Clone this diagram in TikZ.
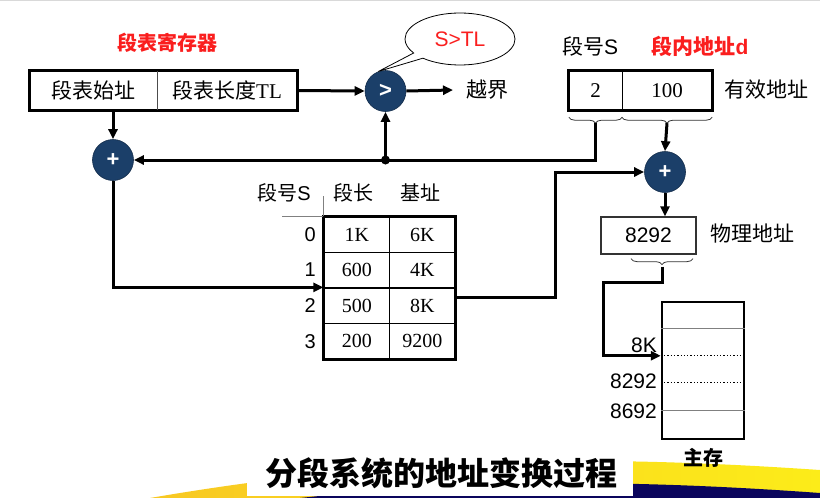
\documentclass[tikz,border=0pt]{standalone}
\usepackage{fontspec}
\setmainfont{Liberation Serif}
\newfontfamily\cjk{Noto Sans CJK SC}
\newfontfamily\arial{Liberation Sans}
\usetikzlibrary{arrows.meta,shapes.geometric,shapes.callouts,decorations.pathreplacing,calc}
\definecolor{navy}{RGB}{27,63,105}
\definecolor{hired}{RGB}{250,30,30}
\definecolor{band}{RGB}{10,5,92}
\definecolor{goldA}{RGB}{248,200,35}
\definecolor{goldB}{RGB}{252,236,25}
\begin{document}
\begin{tikzpicture}[x=1pt,y=-1pt,
  conn/.style={line width=3pt},
  arr/.style={conn,-{Triangle[length=10pt,width=9pt]}},
  op/.style={circle,fill=navy,draw=navy!70!black,line width=0.6pt,minimum size=41pt,inner sep=0pt,text=white,font=\arial\bfseries\fontsize{22}{22}\selectfont},
  cjkt/.style={font=\cjk\fontsize{21}{21}\selectfont,inner sep=0pt},
  cjkb/.style={font=\cjk\bfseries\fontsize{20}{20}\selectfont,inner sep=0pt},
  serift/.style={font=\fontsize{21}{21}\selectfont,inner sep=0pt},
  sanst/.style={font=\arial\fontsize{21}{21}\selectfont,inner sep=0pt},
  cell/.style={draw,line width=1.3pt,minimum width=65.5pt,minimum height=35.5pt,inner sep=0pt,font=\fontsize{20}{20}\selectfont},
  bracestyle/.style={decorate,decoration={brace,amplitude=6pt,mirror},line width=0.8pt,black!80}
]
\useasboundingbox (0,0) rectangle (820,498);
% background band
\draw[gray!30, line width=1pt] (0,0.5) -- (820,0.5);
\shade[left color=goldA,right color=goldB] (150,498) .. controls (400,455) and (600,455) .. (820,470) -- (820,498) -- cycle;
\fill[band] (300,498) .. controls (450,482) and (600,477) .. (820,493) -- (820,498) -- cycle;
\fill[white] (247,452) rectangle (633,496);
\node[font=\cjk\bfseries\fontsize{32}{32}\selectfont] (title) at (441,473) {分段系统的地址变换过程};

% segment table register
\node[cjkb, text=hired] (regt) at (167,43) {段表寄存器};
\node[cjkt, minimum width=127pt, minimum height=39pt] (rb1) at (93.5,90.5) {段表始址};
\node[serift, minimum width=140pt, minimum height=39pt] (rb2) at (227,90.5) {{\cjk 段表长度}TL};
\draw[line width=3pt] (rb1.north west) rectangle (rb2.south east);
\draw[line width=1.3pt, black!70] (rb1.north east) -- (rb1.south east);

% compare
\node[op] (cmp) at (385.5,91) {>};
\draw[arr] (rb2.east) -- (cmp.west);
\node[cjkt, anchor=west] (yj) at (466,90) {越界};
\draw[arr] (cmp.east) -- ([xshift=-13pt]yj.west);
\node[ellipse callout, draw, fill=white, line width=0.8pt, minimum width=110pt, minimum height=52pt,
      callout absolute pointer={(cmp.110)}, callout pointer arc=15, text=hired,
      font=\arial\fontsize{21}{21}\selectfont] (call) at (460,39) {S>TL};

% logical address
\node[cjkt] (segS) at (590,46) {段号{\arial S}};
\node[cjkb, text=hired, font=\cjk\bfseries\fontsize{21}{21}\selectfont] (offd) at (700,46) {段内地址{\arial\bfseries d}};
\node[serift, minimum width=53pt, minimum height=39pt] (ad1) at (595.5,90.5) {2};
\node[serift, minimum width=90pt, minimum height=39pt] (ad2) at (667,90.5) {100};
\draw[line width=3pt] (ad1.north west) rectangle (ad2.south east);
\draw[line width=1.3pt] (ad1.north east) -- (ad1.south east);
\node[cjkt] (yx) at (766,90) {有效地址};
\draw[bracestyle] ([yshift=-7pt]ad1.south west) -- ([yshift=-7pt]ad1.south east);
\draw[bracestyle] ([yshift=-7pt]ad2.south west) -- ([yshift=-7pt]ad2.south east);
\coordinate (bS) at ([yshift=-13pt]ad1.south);
\coordinate (bD) at ([yshift=-13pt]ad2.south);

% adders
\node[op] (add1) at (113,160) {+};
\node[op] (add2) at (665,172) {+};
\draw[arr] (add1 |- rb1.south) -- (add1.north);
\draw[arr] (bS) |- (add1.east);
\coordinate (j) at (cmp |- add1);
\fill (j) circle (4.5pt);
\draw[arr] (j) -- (cmp.south);
\draw[arr] (bD) -- (add2.north);

% segment table
\node[cjkt, font=\cjk\fontsize{20}{20}\selectfont] (hS) at (284,193) {段号{\arial S}};
\node[cjkt, font=\cjk\fontsize{20}{20}\selectfont] (hL) at (353,193) {段长};
\node[cjkt, font=\cjk\fontsize{20}{20}\selectfont] (hB) at (420,193) {基址};
\node[cell] (c00) at (356.75,234.75) {1K};
\node[cell] (c01) at (422.25,234.75) {6K};
\node[cell] (c10) at (356.75,270.25) {600};
\node[cell] (c11) at (422.25,270.25) {4K};
\node[cell] (c20) at (356.75,305.75) {500};
\node[cell] (c21) at (422.25,305.75) {8K};
\node[cell] (c30) at (356.75,341.25) {200};
\node[cell] (c31) at (422.25,341.25) {9200};
\draw[line width=2.5pt] (c00.north west) rectangle (c31.south east);
\draw[gray, line width=1pt] (c00.north west) -- ++(-41,0);
\draw[gray, line width=1pt] (c00.north west) -- ++(0,-20);
\node[sanst, font=\arial\fontsize{20}{20}\selectfont, anchor=east] (r0) at (316,235) {0};
\node[sanst, font=\arial\fontsize{20}{20}\selectfont, anchor=east] (r1) at (316,270) {1};
\node[sanst, font=\arial\fontsize{20}{20}\selectfont, anchor=east] (r2) at (316,306) {2};
\node[sanst, font=\arial\fontsize{20}{20}\selectfont, anchor=east] (r3) at (316,342) {3};
\draw[arr] (add1.south) |- (c20.north west);
\draw[arr] ([yshift=8pt]c21.east) -- ++(100,0) |- (add2.west);

% physical address
\node[draw=black!80, line width=1.3pt, minimum width=95pt, minimum height=37pt, sanst] (pa) at (648.5,235.5) {8292};
\draw[arr] (add2.south) -- (add2 |- pa.north);
\node[cjkt] (wl) at (752,234) {物理地址};
\draw[bracestyle] ([xshift=-17.5pt,yshift=-4pt]pa.south) -- ([xshift=44.5pt,yshift=-4pt]pa.south);
\coordinate (bP) at ([xshift=13.5pt,yshift=-12pt]pa.south);

% main memory
\node[draw, line width=2.5pt, minimum width=82pt, minimum height=137pt, inner sep=0pt] (mem) at (703,370.5) {};
\coordinate (m1) at ([yshift=-28pt]mem.north west);
\coordinate (m2) at ([yshift=-55pt]mem.north west);
\coordinate (m3) at ([yshift=-82pt]mem.north west);
\coordinate (m4) at ([yshift=-110pt]mem.north west);
\draw[gray, line width=1.2pt] (m1) -- (m1 -| mem.east);
\draw[dotted, line width=1.3pt] (m2) -- (m2 -| mem.east);
\draw[dotted, line width=1.3pt] (m3) -- (m3 -| mem.east);
\draw[gray, line width=1.2pt] (m4) -- (m4 -| mem.east);
\draw[arr] (bP) |- ++(-59,16) |- (m2);
\node[sanst, anchor=east] (l1) at (657,345) {8K};
\node[sanst, anchor=east] (l2) at (657,381) {8292};
\node[sanst, anchor=east] (l3) at (657,411) {8692};
\node[cjkb] (zc) at (703,458) {主存};
\end{tikzpicture}
\end{document}
